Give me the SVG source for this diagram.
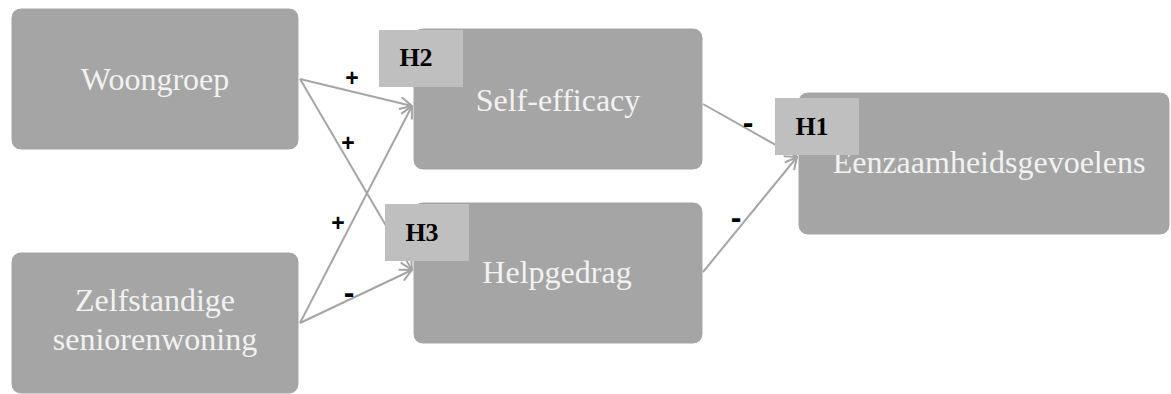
<svg xmlns="http://www.w3.org/2000/svg" width="1171" height="394" viewBox="0 0 1171 394">
<style>
.box{fill:#a5a5a5;stroke:#ffffff;stroke-width:1}
.t{font-family:"Liberation Serif","Times New Roman",serif;font-size:32px;fill:#f2f2f2;text-anchor:middle}
.h{fill:#bfbfbf}
.ht{font-family:"Liberation Serif","Times New Roman",serif;font-size:26px;font-weight:bold;fill:#000;text-anchor:middle}
.c{stroke:#a5a5a5;stroke-width:2;fill:none;marker-end:url(#arr)}
.s{font-family:"Liberation Sans",Arial,sans-serif;font-size:23px;font-weight:bold;fill:#000;text-anchor:middle}
.m{font-family:"Liberation Sans",Arial,sans-serif;font-size:32px;font-weight:bold;fill:#000;text-anchor:middle}
</style>
<defs>
<marker id="arr" viewBox="0 0 14 14" refX="13" refY="7" markerWidth="14" markerHeight="14" markerUnits="userSpaceOnUse" orient="auto">
<path d="M1,1 L13,7 L1,13" fill="none" stroke="#a5a5a5" stroke-width="2"/>
</marker>
</defs>
<rect width="1171" height="394" fill="#ffffff"/>
<g id="woongroep"><rect class="box" x="11" y="8" width="288" height="142" rx="10"/><text class="t" x="155" y="90">Woongroep</text></g>
<g id="zelfstandige"><rect class="box" x="11" y="252" width="288" height="142" rx="10"/><text class="t" x="155" y="311">Zelfstandige</text><text class="t" x="155" y="350">seniorenwoning</text></g>
<g id="selfefficacy"><rect class="box" x="413" y="28" width="290" height="142" rx="10"/><text class="t" x="558" y="111">Self-efficacy</text></g>
<g id="helpgedrag"><rect class="box" x="413" y="202" width="290" height="142" rx="10"/><text class="t" x="557" y="283">Helpgedrag</text></g>
<g id="eenzaamheid"><rect class="box" x="798" y="92" width="372" height="143" rx="10"/><text class="t" x="989" y="173">Eenzaamheidsgevoelens</text></g>
<g id="connectors">
<line class="c" x1="300" y1="79" x2="412" y2="106"/>
<line class="c" x1="300" y1="79" x2="412" y2="270"/>
<line class="c" x1="300" y1="323" x2="412" y2="106"/>
<line class="c" x1="300" y1="323" x2="412" y2="270"/>
<line class="c" x1="703" y1="104" x2="797" y2="157"/>
<line class="c" x1="703" y1="272" x2="797" y2="157"/>
<text class="s" x="352" y="86">+</text>
<text class="s" x="348" y="151">+</text>
<text class="s" x="338" y="231">+</text>
<text class="m" x="349" y="303">-</text>
<text class="m" x="748" y="133">-</text>
<text class="m" x="736" y="228">-</text>
</g>
<g id="H2"><rect class="h" x="379" y="30" width="84" height="57"/><text class="ht" x="416" y="66">H2</text></g>
<g id="H3"><rect class="h" x="385" y="204" width="84" height="57"/><text class="ht" x="422" y="241">H3</text></g>
<g id="H1"><rect class="h" x="775" y="98" width="84" height="57"/><text class="ht" x="812" y="135">H1</text></g>
</svg>
